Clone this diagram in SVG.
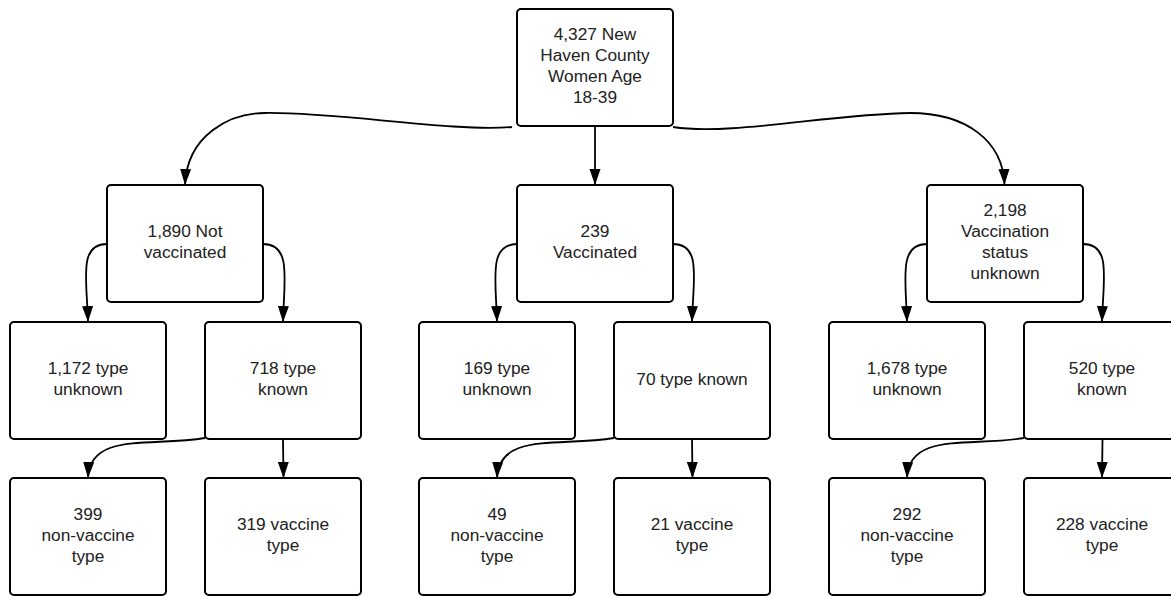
<svg xmlns="http://www.w3.org/2000/svg" width="1171" height="596" viewBox="0 0 1171 596">
  <style>
    .box { fill: #ffffff; stroke: #000000; stroke-width: 2; }
    .lbl { font-family: "Liberation Sans", Arial, sans-serif; font-size: 17.3px; fill: #222222; text-anchor: middle; }
    .edge { fill: none; stroke: #000000; stroke-width: 1.8; marker-end: url(#arrow); }
  </style>
  <defs>
    <marker id="arrow" markerUnits="userSpaceOnUse" markerWidth="16" markerHeight="12" refX="16" refY="6" orient="auto">
      <path d="M0,0.5 L16,6 L0,11.5 z" fill="#000000"/>
    </marker>
  </defs>
  <rect width="1171" height="596" fill="#ffffff"/>

  <g id="connectors">
    <path class="edge" d="M512,127 C450,132 340,112 265,113 C230,113 187,135 185,185"/>
    <path class="edge" d="M595,127 L595,185"/>
    <path class="edge" d="M673,127 C730,136 830,114 910,113 C965,113 1003,140 1004.5,185"/>

    <path class="edge" d="M107,244 C78,244 87,280 88,322"/>
    <path class="edge" d="M263,244 C292,244 284,280 283,322"/>
    <path class="edge" d="M517,244 C488,244 496,280 497,322"/>
    <path class="edge" d="M673,244 C702,244 693,280 692,322"/>
    <path class="edge" d="M927,244 C898,244 906,280 907,322"/>
    <path class="edge" d="M1083,244 C1112,244 1103,280 1102,322"/>

    <path class="edge" d="M205,438 C150,447 90,432 88,478"/>
    <path class="edge" d="M283,439 L283.5,478"/>
    <path class="edge" d="M614,438 C559,447 499,432 497,478"/>
    <path class="edge" d="M692,439 L692.5,478"/>
    <path class="edge" d="M1024,438 C969,447 909,432 907,478"/>
    <path class="edge" d="M1102.5,439 L1102,478"/>
  </g>

  <g id="n-root">
    <rect class="box" x="517" y="9" width="156" height="117" rx="4"/>
    <text class="lbl"><tspan x="595" y="40">4,327 New</tspan><tspan x="595" y="61">Haven County</tspan><tspan x="595" y="82">Women Age</tspan><tspan x="595" y="103">18-39</tspan></text>
  </g>

  <g id="n-notvacc">
    <rect class="box" x="107" y="185" width="156" height="117" rx="4"/>
    <text class="lbl"><tspan x="185" y="237">1,890 Not</tspan><tspan x="185" y="258">vaccinated</tspan></text>
  </g>
  <g id="n-vacc">
    <rect class="box" x="517" y="185" width="156" height="117" rx="4"/>
    <text class="lbl"><tspan x="595" y="237">239</tspan><tspan x="595" y="258">Vaccinated</tspan></text>
  </g>
  <g id="n-unknown">
    <rect class="box" x="927" y="185" width="156" height="117" rx="4"/>
    <text class="lbl"><tspan x="1005" y="216">2,198</tspan><tspan x="1005" y="237">Vaccination</tspan><tspan x="1005" y="258">status</tspan><tspan x="1005" y="279">unknown</tspan></text>
  </g>

  <g id="n-1172">
    <rect class="box" x="10" y="322" width="156" height="117" rx="4"/>
    <text class="lbl"><tspan x="88" y="374">1,172 type</tspan><tspan x="88" y="395">unknown</tspan></text>
  </g>
  <g id="n-718">
    <rect class="box" x="205" y="322" width="156" height="117" rx="4"/>
    <text class="lbl"><tspan x="283" y="374">718 type</tspan><tspan x="283" y="395">known</tspan></text>
  </g>
  <g id="n-169">
    <rect class="box" x="419" y="322" width="156" height="117" rx="4"/>
    <text class="lbl"><tspan x="497" y="374">169 type</tspan><tspan x="497" y="395">unknown</tspan></text>
  </g>
  <g id="n-70">
    <rect class="box" x="614" y="322" width="156" height="117" rx="4"/>
    <text class="lbl"><tspan x="692" y="384.5">70 type known</tspan></text>
  </g>
  <g id="n-1678">
    <rect class="box" x="829" y="322" width="156" height="117" rx="4"/>
    <text class="lbl"><tspan x="907" y="374">1,678 type</tspan><tspan x="907" y="395">unknown</tspan></text>
  </g>
  <g id="n-520">
    <rect class="box" x="1024" y="322" width="156" height="117" rx="4"/>
    <text class="lbl"><tspan x="1102" y="374">520 type</tspan><tspan x="1102" y="395">known</tspan></text>
  </g>

  <g id="n-399">
    <rect class="box" x="10" y="478" width="156" height="117" rx="4"/>
    <text class="lbl"><tspan x="88" y="519.5">399</tspan><tspan x="88" y="540.5">non-vaccine</tspan><tspan x="88" y="561.5">type</tspan></text>
  </g>
  <g id="n-319">
    <rect class="box" x="205" y="478" width="156" height="117" rx="4"/>
    <text class="lbl"><tspan x="283" y="530">319 vaccine</tspan><tspan x="283" y="551">type</tspan></text>
  </g>
  <g id="n-49">
    <rect class="box" x="419" y="478" width="156" height="117" rx="4"/>
    <text class="lbl"><tspan x="497" y="519.5">49</tspan><tspan x="497" y="540.5">non-vaccine</tspan><tspan x="497" y="561.5">type</tspan></text>
  </g>
  <g id="n-21">
    <rect class="box" x="614" y="478" width="156" height="117" rx="4"/>
    <text class="lbl"><tspan x="692" y="530">21 vaccine</tspan><tspan x="692" y="551">type</tspan></text>
  </g>
  <g id="n-292">
    <rect class="box" x="829" y="478" width="156" height="117" rx="4"/>
    <text class="lbl"><tspan x="907" y="519.5">292</tspan><tspan x="907" y="540.5">non-vaccine</tspan><tspan x="907" y="561.5">type</tspan></text>
  </g>
  <g id="n-228">
    <rect class="box" x="1024" y="478" width="156" height="117" rx="4"/>
    <text class="lbl"><tspan x="1102" y="530">228 vaccine</tspan><tspan x="1102" y="551">type</tspan></text>
  </g>
</svg>
